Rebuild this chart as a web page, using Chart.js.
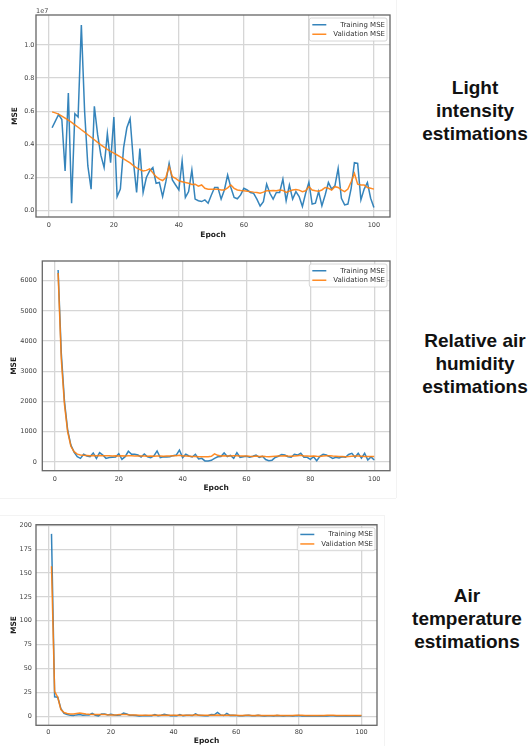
<!DOCTYPE html>
<html>
<head>
<meta charset="utf-8">
<script src="https://cdn.jsdelivr.net/npm/chart.js@4/dist/chart.umd.min.js"></script>
<style>
body { margin: 0; background: #fff; width: 530px; height: 746px; position: relative; overflow: hidden; font-family: "Liberation Sans", Arial, sans-serif; }
.panel { position: absolute; left: 0; }
.caption { position: absolute; text-align: center; font-weight: bold; font-size: 19px; line-height: 23px; color: #111; white-space: nowrap; transform: translateX(-50%); }
.sep { position: absolute; background: #f3f3f3; }
</style>
</head>
<body>
<div class="sep" style="left:396px;top:0;width:1px;height:498px"></div>
<div class="sep" style="left:0;top:498px;width:396px;height:1px"></div>
<div class="sep" style="left:0;top:515px;width:384px;height:1px"></div>
<div class="sep" style="left:384px;top:515px;width:1px;height:231px"></div>

<canvas id="light-chart" class="panel" width="400" height="245" style="top:0"></canvas>
<canvas id="humidity-chart" class="panel" width="400" height="255" style="top:245px"></canvas>
<canvas id="temp-chart" class="panel" width="400" height="246" style="top:500px"></canvas>

<div class="caption" style="left:475px;top:76px">Light<br>intensity<br>estimations</div>
<div class="caption" style="left:475px;top:329px">Relative air<br>humidity<br>estimations</div>
<div class="caption" style="left:467px;top:584px">Air<br>temperature<br>estimations</div>

<script>
// epochs 1..100 (x axis)
const epochs = Array.from({length: 100}, (_, i) => i + 1);
const epochTicks = [0, 20, 40, 60, 80, 100];

// light intensity MSE, in units of 1e7
const lightTrain = [
  0.50, 0.54, 0.58, 0.55, 0.24, 0.71, 0.045, 0.585, 0.565, 1.12,
  0.60, 0.27, 0.13, 0.63, 0.46, 0.335, 0.26, 0.465, 0.29, 0.565,
  0.085, 0.13, 0.38, 0.50, 0.555, 0.30, 0.11, 0.375, 0.11, 0.20,
  0.24, 0.26, 0.165, 0.17, 0.085, 0.175, 0.285, 0.185, 0.155, 0.125,
  0.30, 0.08, 0.115, 0.245, 0.07, 0.06, 0.055, 0.065, 0.045, 0.095,
  0.14, 0.14, 0.07, 0.125, 0.215, 0.14, 0.08, 0.072, 0.095, 0.135,
  0.125, 0.11, 0.105, 0.07, 0.028, 0.055, 0.16, 0.105, 0.07, 0.11,
  0.11, 0.19, 0.06, 0.155, 0.07, 0.115, 0.085, 0.025, 0.105, 0.17,
  0.04, 0.045, 0.115, 0.03, 0.095, 0.17, 0.13, 0.15, 0.255, 0.075,
  0.035, 0.04, 0.135, 0.29, 0.285, 0.065, 0.13, 0.17, 0.075, 0.02
];
const lightValid = [
  0.596, 0.59, 0.582, 0.57, 0.558, 0.546, 0.532, 0.518, 0.503, 0.488,
  0.474, 0.458, 0.443, 0.428, 0.412, 0.397, 0.383, 0.37, 0.358, 0.347,
  0.336, 0.325, 0.313, 0.30, 0.288, 0.272, 0.258, 0.248, 0.24, 0.243,
  0.252, 0.228, 0.205, 0.19, 0.182, 0.20, 0.268, 0.205, 0.195, 0.18,
  0.175, 0.17, 0.165, 0.158, 0.16, 0.148, 0.155, 0.135, 0.13, 0.13,
  0.13, 0.13, 0.125, 0.125, 0.138, 0.155, 0.135, 0.125, 0.122, 0.12,
  0.117, 0.115, 0.112, 0.11, 0.105, 0.112, 0.12, 0.12, 0.122, 0.12,
  0.125, 0.122, 0.11, 0.118, 0.125, 0.128, 0.124, 0.115, 0.12, 0.145,
  0.125, 0.12, 0.118, 0.125, 0.14, 0.135, 0.125, 0.145, 0.14, 0.125,
  0.115, 0.13, 0.175, 0.225, 0.16, 0.155, 0.155, 0.14, 0.135, 0.13
];
const lightTicks = [0, 0.2, 0.4, 0.6, 0.8, 1.0];

// relative air humidity MSE
const humidTrain = [
  6350, 3600, 2000, 1050, 560, 330, 175, 120, 255, 200,
  175, 300, 120, 310, 230, 120, 145, 155, 165, 275,
  90, 175, 355, 255, 255, 230, 165, 265, 175, 145,
  200, 365, 145, 175, 165, 175, 210, 230, 395, 145,
  255, 200, 165, 255, 100, 120, 35, 35, 55, 120,
  170, 180, 300, 180, 220, 120, 310, 155, 175, 190,
  155, 190, 230, 155, 190, 80, 44, 60, 150, 190,
  250, 230, 175, 155, 254, 230, 287, 155, 155, 90,
  175, 44, 190, 254, 230, 175, 120, 155, 130, 170,
  155, 250, 287, 155, 287, 130, 287, 66, 170, 66
];
const humidValid = [
  6250, 3400, 1900, 1000, 520, 340, 260, 230, 220, 215,
  210, 215, 210, 215, 205, 210, 205, 200, 205, 200,
  205, 200, 210, 205, 200, 195, 200, 195, 190, 195,
  190, 200, 195, 190, 195, 200, 205, 210, 220, 200,
  195, 190, 185, 185, 175, 170, 170, 175, 190, 270,
  220, 200, 210, 200, 195, 210, 205, 200, 195, 200,
  190, 185, 195, 185, 190, 180, 175, 185, 190, 195,
  200, 210, 195, 190, 200, 210, 220, 200, 195, 190,
  200, 190, 185, 200, 205, 210, 195, 190, 185, 180,
  175, 180, 190, 200, 195, 190, 185, 180, 180, 185
];
const humidTicks = [0, 1000, 2000, 3000, 4000, 5000, 6000];

// air temperature MSE
const tempTrain = [
  191, 20.5, 20, 8, 3, 2, 1, 0.8, 1.5, 1.8,
  1.2, 1.5, 1.5, 3, 1.2, 0.5, 2.5, 2.5, 1.5, 2.2,
  1.5, 1.2, 1.3, 3.5, 2.5, 1.2, 1.0, 0.8, 0.3, 0.5,
  0.8, 0.5, 0.7, 1.8, 0.6, 1.2, 2.2, 1.5, 0.6, 0.8,
  0.5, 1.8, 0.5, 1.0, 1.2, 0.8, 2.5, 1.0, 0.8, 0.5,
  0.6, 1.8, 1.6, 4.0, 1.5, 0.8, 3.0, 1.0, 1.2, 0.8,
  0.6, 0.5, 0.8, 1.0, 0.6, 0.5, 1.2, 0.5, 0.4, 0.6,
  0.5, 0.4, 0.8, 0.5, 0.3, 0.5, 0.6, 0.4, 0.5, 0.8,
  0.4, 0.3, 0.5, 0.4, 0.3, 0.4, 0.5, 0.4, 0.3, 0.5,
  0.6, 0.4, 0.3, 0.4, 0.5, 0.3, 0.4, 0.5, 0.3, 0.4
];
const tempValid = [
  157, 26, 20, 7, 4, 3, 2.5, 2.5, 3.0, 3.5,
  3.0, 2.5, 2.2, 2.0, 2.0, 1.8, 1.8, 1.8, 1.6, 1.5,
  1.5, 1.6, 1.8, 2.0, 1.8, 1.5, 1.4, 1.3, 1.2, 1.2,
  1.2, 1.1, 1.1, 1.2, 1.1, 1.1, 1.2, 1.2, 1.1, 1.1,
  1.0, 1.1, 1.1, 1.0, 1.0, 1.1, 1.6, 1.2, 1.0, 1.0,
  1.0, 1.1, 1.1, 1.4, 1.2, 1.1, 1.2, 1.0, 1.0, 1.0,
  0.9, 0.9, 1.0, 1.0, 0.9, 0.9, 1.0, 0.9, 0.9, 0.9,
  0.9, 0.9, 1.0, 0.9, 0.9, 0.9, 0.9, 0.9, 1.0, 1.1,
  1.0, 0.9, 0.9, 0.9, 0.9, 0.9, 0.9, 0.9, 1.0, 1.1,
  1.0, 0.9, 0.9, 0.9, 0.9, 0.9, 0.9, 0.9, 0.9, 0.9
];
const tempTicks = [0, 25, 50, 75, 100, 125, 150, 175, 200];

const blue = 'rgba(31,119,180,0.9)';
const orange = 'rgba(255,127,14,0.9)';
const gridColor = '#d6d6d6';
const tickFont = { family: '"DejaVu Sans"', size: 6.5 };
const titleFont = { family: '"DejaVu Sans"', size: 7.5, weight: 'bold' };

// axes frame, matplotlib style legend box and the optional offset text ("1e7")
const frameAndLegend = {
    id: 'frameAndLegend',
    afterDatasetsDraw(chart, args, opts) {
        const ctx = chart.ctx;
        const a = chart.chartArea;
        ctx.save();
        ctx.strokeStyle = '#666';
        ctx.lineWidth = 1.3;
        ctx.strokeRect(a.left, a.top, a.right - a.left, a.bottom - a.top);

        ctx.font = '7px "DejaVu Sans"';
        const sets = chart.data.datasets;
        const textW = Math.max(...sets.map(d => ctx.measureText(d.label).width));
        const rowH = 9.5;
        const w = textW + 26;
        const h = sets.length * rowH + 4;
        const x = a.right - opts.margin - w;
        const y = a.top + 3;
        ctx.fillStyle = 'rgba(255,255,255,0.85)';
        ctx.strokeStyle = '#cccccc';
        ctx.lineWidth = 0.8;
        ctx.beginPath();
        ctx.roundRect(x, y, w, h, 2);
        ctx.fill();
        ctx.stroke();
        sets.forEach((d, i) => {
            const cy = y + 2 + rowH * (i + 0.5);
            ctx.strokeStyle = d.borderColor;
            ctx.lineWidth = 1.5;
            ctx.beginPath();
            ctx.moveTo(x + 3, cy);
            ctx.lineTo(x + 17, cy);
            ctx.stroke();
            ctx.fillStyle = '#333';
            ctx.textAlign = 'right';
            ctx.textBaseline = 'middle';
            ctx.fillText(d.label, x + w - 2, cy);
        });

        if (opts.offsetText) {
            ctx.font = '6.5px "DejaVu Sans"';
            ctx.fillStyle = '#444';
            ctx.textAlign = 'left';
            ctx.textBaseline = 'alphabetic';
            ctx.fillText(opts.offsetText, a.left, a.top - 2);
        }
        ctx.restore();
    }
};

function buildChart(canvasId, cfg) {
    return new Chart(document.querySelector(canvasId), {
        type: 'line',
        data: {
            datasets: [
                {
                    label: 'Training MSE',
                    data: epochs.map((e, i) => ({x: e, y: cfg.train[i]})),
                    borderColor: blue,
                    borderWidth: 1.5,
                    pointRadius: 0,
                    order: 1
                },
                {
                    label: 'Validation MSE',
                    data: epochs.map((e, i) => ({x: e, y: cfg.valid[i]})),
                    borderColor: orange,
                    borderWidth: 1.5,
                    pointRadius: 0,
                    order: 0
                }
            ]
        },
        options: {
            responsive: false,
            animation: false,
            layout: { padding: cfg.padding },
            plugins: {
                legend: { display: false },
                tooltip: { enabled: false },
                frameAndLegend: { margin: cfg.legendMargin, offsetText: cfg.offsetText }
            },
            scales: {
                x: {
                    type: 'linear',
                    min: -3.95,
                    max: 104.95,
                    afterBuildTicks: s => { s.ticks = epochTicks.map(v => ({value: v})); },
                    afterFit: s => { s.height = cfg.xHeight; },
                    grid: { color: gridColor, lineWidth: 1.3, drawTicks: false },
                    border: { display: false },
                    ticks: { font: tickFont, color: '#444', padding: cfg.xTickPad, maxRotation: 0 },
                    title: { display: true, text: 'Epoch', font: titleFont, color: '#222',
                             padding: {top: 0, bottom: cfg.xTitlePad} }
                },
                y: {
                    min: cfg.yMin,
                    max: cfg.yMax,
                    afterBuildTicks: s => { s.ticks = cfg.yTicks.map(v => ({value: v})); },
                    afterFit: s => { s.width = cfg.yWidth; },
                    grid: { color: gridColor, lineWidth: 1.3, drawTicks: false },
                    border: { display: false },
                    ticks: { font: tickFont, color: '#444', padding: cfg.yTickPad, callback: cfg.yFormat },
                    title: { display: true, text: 'MSE', font: titleFont, color: '#222',
                             padding: {top: cfg.yTitlePad, bottom: 0} }
                }
            }
        },
        plugins: [frameAndLegend]
    });
}

buildChart('#light-chart', {
    train: lightTrain, valid: lightValid, yTicks: lightTicks,
    yMin: -0.038, yMax: 1.18, yFormat: v => v.toFixed(1), offsetText: '1e7',
    padding: {top: 15, right: 10, left: 0, bottom: 0},
    yWidth: 36, xHeight: 28, xTickPad: 4, xTitlePad: 5.8, yTitlePad: 10.5, yTickPad: 1.5, legendMargin: 3
});

buildChart('#humidity-chart', {
    train: humidTrain, valid: humidValid, yTicks: humidTicks,
    yMin: -288, yMax: 6650, yFormat: v => String(v),
    padding: {top: 16, right: 10, left: 0, bottom: 0},
    yWidth: 42.3, xHeight: 29.3, xTickPad: 4.5, xTitlePad: 7, yTitlePad: 10, yTickPad: 5.5, legendMargin: 3
});

buildChart('#temp-chart', {
    train: tempTrain, valid: tempValid, yTicks: tempTicks,
    yMin: -9.4, yMax: 200.6, yFormat: v => String(v),
    padding: {top: 24.7, right: 23, left: 0, bottom: 0},
    yWidth: 36, xHeight: 20.7, xTickPad: 3.5, xTitlePad: 0, yTitlePad: 10, yTickPad: 4, legendMargin: 2
});
</script>
</body>
</html>
